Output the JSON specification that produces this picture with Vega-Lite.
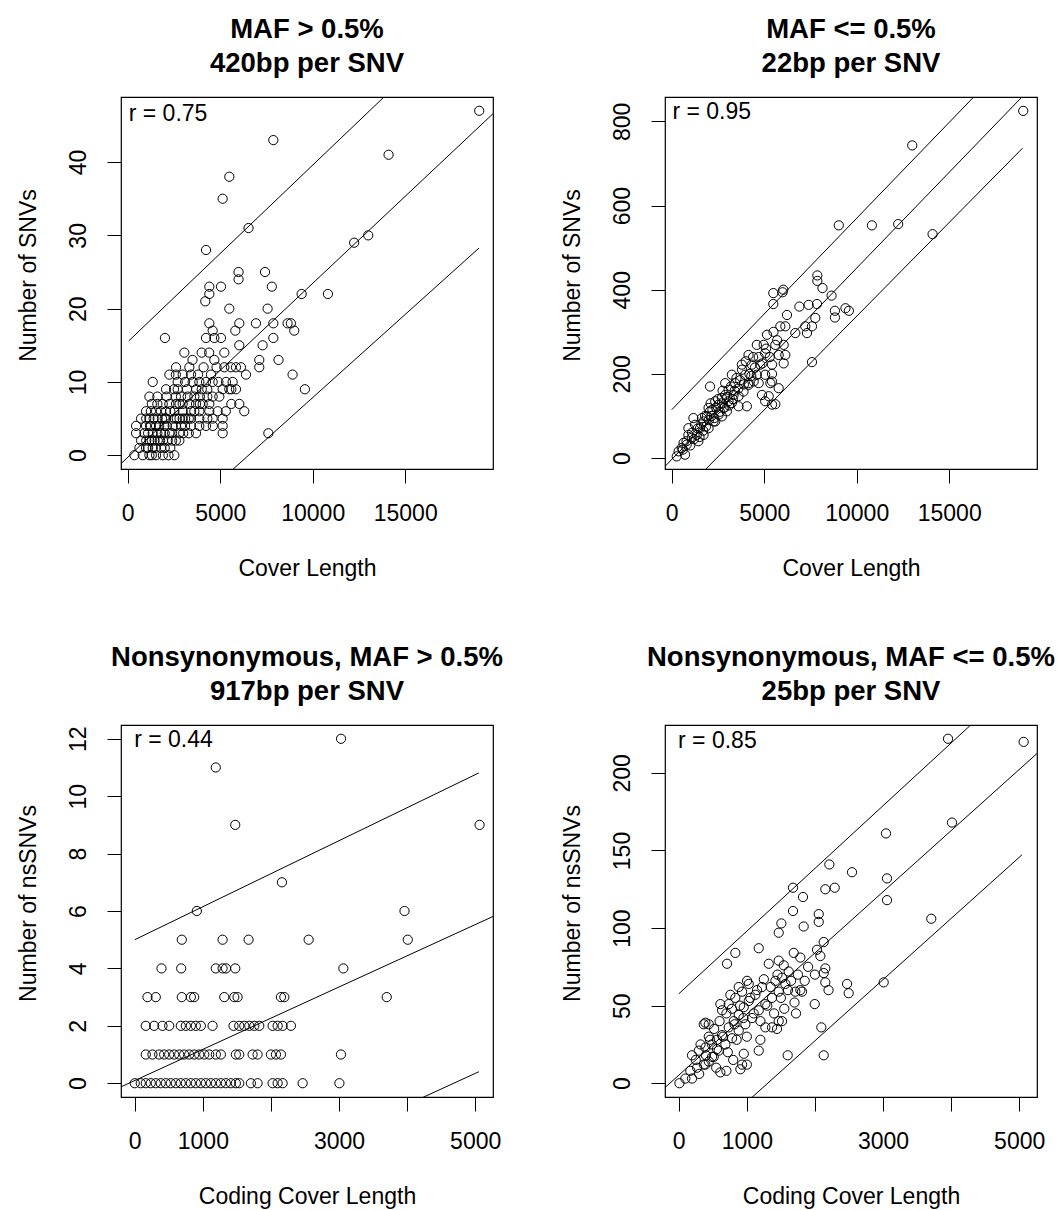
{
  "$schema": "https://vega.github.io/schema/vega-lite/v6.json",
  "padding": {"left": 16, "top": 14, "right": 0, "bottom": 0},
  "background": "white",
  "columns": 2,
  "spacing": {"row": 256, "column": 172},
  "bounds": "flush",
  "config": {
    "view": {"stroke": "#000", "strokeWidth": 1.2},
    "axis": {"domain": false, "grid": false, "tickColor": "#000", "tickSize": 14, "tickWidth": 1, "labelColor": "#000", "labelFont": "Liberation Sans", "labelFontSize": 23, "titleFont": "Liberation Sans", "titleFontSize": 23, "titleFontWeight": "normal", "titleColor": "#000", "labelOverlap": false, "labelFlush": false},
    "axisX": {"labelPadding": 37, "labelBaseline": "alphabetic", "labelAngle": 0, "titleX": 186, "titleY": 106, "titleBaseline": "alphabetic", "titleAlign": "center", "format": "d"},
    "axisY": {"labelAngle": -90, "labelAlign": "center", "labelBaseline": "alphabetic", "labelPadding": 22, "titleAngle": -90, "titleX": -86, "titleY": 178, "titleBaseline": "alphabetic", "titleAlign": "center", "format": "d"},
    "title": {"font": "Liberation Sans", "fontSize": 27.5, "fontWeight": "bold", "color": "#000", "lineHeight": 34, "anchor": "middle", "offset": 20},
    "text": {"font": "Liberation Sans", "fontSize": 23, "color": "#000"}
  },
  "datasets": {
    "p1": [[19000,47],[7870,43],[14100,41],[5490,38],[5130,35],[6530,31],[4230,28],[12240,29],[13000,30],[5990,25],[5990,24],[7420,25],[4410,23],[5040,23],[7790,23],[4410,22],[4190,21],[9400,22],[10820,22],[5490,20],[7560,20],[4410,18],[6030,18],[6930,18],[7870,18],[8640,18],[8820,18],[9000,17],[4590,17],[4230,16],[4680,16],[5040,16],[5815,17],[2010,16],[7870,16],[6030,15],[7290,15],[3060,14],[3996,14],[4680,13],[5220,14],[7110,13],[8150,13],[7110,12],[2610,12],[3330,12],[5220,12],[5580,12],[5850,12],[6120,12],[2250,11],[2970,11],[3420,11],[4500,11],[6390,11],[8910,11],[1350,10],[3510,10],[3870,10],[4230,10],[4590,10],[5310,10],[5670,10],[2070,9],[2700,9],[1170,8],[5130,9],[5490,9],[5850,9],[9576,9],[2880,8],[3240,8],[3600,8],[4590,8],[4950,8],[1890,7],[2250,7],[2610,7],[2970,7],[3330,7],[3690,7],[4050,7],[4410,7],[6030,7],[6300,6],[990,6],[1530,6],[2070,6],[2520,6],[2970,6],[3420,6],[3870,6],[4410,6],[4860,6],[720,5],[1170,5],[1620,5],[2070,5],[2520,5],[2970,5],[3420,5],[3870,5],[4590,5],[5130,5],[450,4],[990,4],[1530,4],[1980,4],[2430,4],[2880,4],[3420,4],[3870,4],[4230,4],[5130,4],[450,3],[900,3],[1350,3],[1800,3],[2250,3],[2790,3],[3690,3],[5130,3],[7600,3],[720,2],[1170,2],[1620,2],[2160,2],[2790,2],[630,1],[990,1],[1350,1],[1800,1],[360,0],[810,0],[1170,0],[1530,0],[2520,0],[1100,3],[1250,4],[1400,5],[1700,4],[2000,5],[2300,6],[2600,8],[1000,2],[1450,2],[1900,2],[2400,3],[3100,4],[3300,5],[2800,5],[4000,9],[3200,9],[1300,7],[1600,8],[2100,4],[2650,5],[1300,0],[1900,0],[2200,0],[1100,1],[1500,1],[2000,1],[2300,1],[1300,2],[1750,2],[2400,2],[2600,2],[1600,3],[2000,3],[3000,3],[3300,3],[1200,4],[2600,4],[4600,4],[1000,5],[1850,5],[3100,5],[4300,5],[1250,6],[1800,6],[3600,6],[5300,6],[1600,7],[2800,7],[3900,7],[5600,7],[2100,8],[3900,8],[4300,8],[2500,9],[3700,9],[4300,9],[2700,10],[3100,10],[4900,10],[2600,11],[3800,11],[4100,12],[4800,12],[3500,13],[4400,14],[5600,9]],
    "p2": [[19000,825],[13000,743],[9030,553],[10820,553],[12240,556],[14100,532],[7870,434],[7870,421],[8150,404],[8640,386],[5490,392],[5990,394],[6030,400],[5490,366],[6900,360],[7400,364],[7850,366],[8820,350],[9390,356],[9576,350],[8820,334],[6230,340],[7760,333],[5870,313],[6140,313],[7220,313],[7580,313],[6680,297],[7310,297],[5150,293],[4600,269],[4970,269],[5600,269],[6050,269],[4150,245],[5050,249],[5780,245],[6140,245],[3790,222],[4330,222],[4780,222],[5420,222],[6050,225],[3250,198],[3970,198],[4600,198],[5420,200],[2890,178],[3430,178],[4150,178],[4700,178],[5330,178],[2070,170],[3610,123],[4060,123],[5240,147],[5600,128],[7580,228],[270,4],[540,24],[810,32],[1080,48],[1170,95],[1350,55],[1530,71],[1720,87],[1900,99],[2070,111],[1440,40],[1720,55],[1990,71],[2260,87],[2530,103],[2800,119],[3070,135],[3340,150],[900,71],[1260,79],[1630,95],[1990,119],[2350,135],[2710,143],[3070,162],[2350,87],[2710,99],[2980,111],[3250,131],[3610,147],[3880,158],[4150,174],[4430,182],[2530,127],[2890,150],[4880,150],[5050,198],[5420,182],[5780,166],[5050,135],[5420,127],[370,16],[640,36],[900,55],[720,8],[600,20],[800,40],[1000,30],[1100,60],[1200,45],[1400,70],[1500,50],[1600,80],[1700,65],[1800,100],[1850,75],[2000,90],[2100,130],[2150,100],[2200,115],[2300,95],[2400,120],[2500,140],[2600,110],[2700,130],[2750,160],[2850,120],[3000,145],[3100,125],[3200,170],[3300,140],[3400,160],[3500,190],[3600,165],[3700,185],[3800,210],[3900,175],[4000,230],[4200,200],[4300,195],[4400,240],[4500,215],[4700,240],[4900,225],[5100,260],[5300,240],[5500,300],[5700,280]],
    "p3": [[3030,12],[1190,11],[1476,9],[5065,9],[2162,7],[912,6],[3962,6],[691,5],[1290,5],[1672,5],[2554,5],[4010,5],[393,4],[682,4],[1190,4],[1290,4],[1340,4],[1476,4],[3064,4],[187,3],[309,3],[691,3],[824,3],[873,3],[1315,3],[1462,3],[1510,3],[2147,3],[2197,3],[3701,3],[162,2],[285,2],[407,2],[506,2],[676,2],[750,2],[824,2],[897,2],[971,2],[1143,2],[1451,2],[1535,2],[1609,2],[1682,2],[1756,2],[1829,2],[2025,2],[2099,2],[2172,2],[2294,2],[162,1],[260,1],[359,1],[432,1],[506,1],[579,1],[653,1],[726,1],[800,1],[874,1],[947,1],[1021,1],[1094,1],[1191,1],[1265,1],[1485,1],[1535,1],[1731,1],[1804,1],[2000,1],[2074,1],[2147,1],[3029,1],[0,0],[88,0],[162,0],[235,0],[309,0],[382,0],[456,0],[529,0],[603,0],[676,0],[750,0],[824,0],[897,0],[971,0],[1044,0],[1118,0],[1191,0],[1265,0],[1338,0],[1412,0],[1485,0],[1535,0],[1706,0],[1804,0],[2025,0],[2099,0],[2172,0],[2466,0],[3006,0]],
    "p4": [[3955,222],[5066,220],[4013,168],[3044,161],[2212,141],[2545,136],[3059,132],[3059,118],[1678,126],[1825,120],[2153,125],[2291,126],[1678,111],[2056,109],[2056,104],[1507,103],[1468,97],[1835,101],[3709,106],[1175,87],[831,84],[709,77],[2129,91],[2031,86],[2080,82],[1689,84],[1786,81],[2153,74],[2129,71],[2153,65],[2472,64],[2496,58],[3010,65],[1605,60],[1712,59],[1811,59],[1997,51],[1722,45],[2094,36],[2129,18],[1600,18],[10,0],[97,3],[195,3],[170,8],[269,10],[367,12],[441,14],[514,17],[195,18],[294,21],[391,23],[489,25],[562,28],[636,31],[734,36],[808,40],[881,44],[955,49],[1028,53],[1125,57],[1223,62],[391,12],[489,17],[587,21],[685,25],[783,29],[881,34],[979,38],[1077,42],[1175,47],[1272,51],[1370,55],[1468,59],[1566,64],[636,47],[734,51],[831,55],[930,59],[1028,64],[441,38],[391,39],[611,51],[758,57],[881,62],[1003,66],[1322,77],[1468,79],[1542,76],[1615,72],[1419,66],[1517,68],[1786,60],[367,38],[441,30],[611,7],[905,9],[955,19],[930,12],[1175,21],[1468,40],[1443,35],[1199,28],[1272,36],[1370,36],[1517,40],[250,15],[320,25],[400,18],[460,28],[520,35],[560,22],[600,40],[650,30],[700,45],[720,20],[780,48],[820,38],[850,28],[900,50],[950,42],[1000,30],[1050,55],[1100,45],[1150,60],[1200,40],[1250,67],[1300,50],[1350,62],[1400,45],[1450,70],[1500,55],[1550,48],[1650,66],[1700,52],[1750,70],[1850,66],[1900,75],[2000,70],[2200,60],[300,6],[550,10],[700,8],[800,15],[1000,12]],
    "l1": [{"k":"u","x":54,"y":15.6},{"k":"u","x":19000,"y":61.3},{"k":"m","x":-365,"y":-1.15},{"k":"m","x":19745,"y":46.6},{"k":"l","x":54,"y":-14.7},{"k":"l","x":18990,"y":28.27}],
    "l2": [{"k":"u","x":0,"y":114.8},{"k":"u","x":18960,"y":978},{"k":"m","x":-365,"y":-19.9},{"k":"m","x":19745,"y":895},{"k":"l","x":0,"y":-108.3},{"k":"l","x":18960,"y":736.3}],
    "l3": [{"k":"u","x":0,"y":5.0},{"k":"u","x":5054,"y":10.81},{"k":"m","x":-202,"y":-0.126},{"k":"m","x":5262,"y":5.81},{"k":"l","x":0,"y":-5.1},{"k":"l","x":5054,"y":0.4}],
    "l4": [{"k":"u","x":0,"y":57.6},{"k":"u","x":5041,"y":261.3},{"k":"m","x":-202,"y":-2.8},{"k":"m","x":5262,"y":212.5},{"k":"l","x":0,"y":-51.5},{"k":"l","x":5041,"y":147.2}],
    "t1": [{"t":"r = 0.75","x":54,"y":45.6}],
    "t2": [{"t":"r = 0.95","x":38,"y":806}],
    "t3": [{"t":"r = 0.44","x":-9,"y":11.73}],
    "t4": [{"t":"r = 0.85","x":-10,"y":216.2}]
  },
  "concat": [
    {
      "width": 372, "height": 372,
      "title": {"text": ["MAF > 0.5%", "420bp per SNV"]},
      "layer": [
        {"data": {"name": "p1"}, "transform": [{"calculate": "datum[0]", "as": "len"}, {"calculate": "datum[1]", "as": "n"}],
         "mark": {"type": "point", "shape": "circle", "size": 85, "stroke": "#000", "strokeWidth": 1, "opacity": 1, "filled": false},
         "encoding": {
           "x": {"field": "len", "type": "quantitative", "scale": {"domain": [-365, 19745], "nice": false, "zero": false}, "axis": {"values": [0, 5000, 10000, 15000], "title": "Cover Length"}},
           "y": {"field": "n", "type": "quantitative", "scale": {"domain": [-1.88, 48.88], "nice": false, "zero": false}, "axis": {"values": [0, 10, 20, 30, 40], "title": "Number of SNVs"}}}},
        {"data": {"name": "l1"}, "mark": {"type": "line", "color": "#000", "strokeWidth": 1, "clip": true},
         "encoding": {"x": {"field": "x", "type": "quantitative"}, "y": {"field": "y", "type": "quantitative"}, "detail": {"field": "k"}}},
        {"data": {"name": "t1"}, "mark": {"type": "text", "align": "left", "baseline": "alphabetic"},
         "encoding": {"x": {"field": "x", "type": "quantitative"}, "y": {"field": "y", "type": "quantitative"}, "text": {"field": "t"}}}
      ]
    },
    {
      "width": 372, "height": 372,
      "title": {"text": ["MAF <= 0.5%", "22bp per SNV"]},
      "layer": [
        {"data": {"name": "p2"}, "transform": [{"calculate": "datum[0]", "as": "len"}, {"calculate": "datum[1]", "as": "n"}],
         "mark": {"type": "point", "shape": "circle", "size": 85, "stroke": "#000", "strokeWidth": 1, "opacity": 1, "filled": false},
         "encoding": {
           "x": {"field": "len", "type": "quantitative", "scale": {"domain": [-365, 19745], "nice": false, "zero": false}, "axis": {"values": [0, 5000, 10000, 15000], "title": "Cover Length"}},
           "y": {"field": "n", "type": "quantitative", "scale": {"domain": [-26, 858], "nice": false, "zero": false}, "axis": {"values": [0, 200, 400, 600, 800], "title": "Number of SNVs"}}}},
        {"data": {"name": "l2"}, "mark": {"type": "line", "color": "#000", "strokeWidth": 1, "clip": true},
         "encoding": {"x": {"field": "x", "type": "quantitative"}, "y": {"field": "y", "type": "quantitative"}, "detail": {"field": "k"}}},
        {"data": {"name": "t2"}, "mark": {"type": "text", "align": "left", "baseline": "alphabetic"},
         "encoding": {"x": {"field": "x", "type": "quantitative"}, "y": {"field": "y", "type": "quantitative"}, "text": {"field": "t"}}}
      ]
    },
    {
      "width": 372, "height": 372,
      "title": {"text": ["Nonsynonymous, MAF > 0.5%", "917bp per SNV"]},
      "layer": [
        {"data": {"name": "p3"}, "transform": [{"calculate": "datum[0]", "as": "len"}, {"calculate": "datum[1]", "as": "n"}],
         "mark": {"type": "point", "shape": "circle", "size": 85, "stroke": "#000", "strokeWidth": 1, "opacity": 1, "filled": false},
         "encoding": {
           "x": {"field": "len", "type": "quantitative", "scale": {"domain": [-202, 5262], "nice": false, "zero": false}, "axis": {"values": [0, 1000, 2000, 3000, 4000, 5000], "labelExpr": "datum.value == 2000 || datum.value == 4000 ? '' : datum.label", "title": "Coding Cover Length"}},
           "y": {"field": "n", "type": "quantitative", "scale": {"domain": [-0.48, 12.48], "nice": false, "zero": false}, "axis": {"values": [0, 2, 4, 6, 8, 10, 12], "title": "Number of nsSNVs"}}}},
        {"data": {"name": "l3"}, "mark": {"type": "line", "color": "#000", "strokeWidth": 1, "clip": true},
         "encoding": {"x": {"field": "x", "type": "quantitative"}, "y": {"field": "y", "type": "quantitative"}, "detail": {"field": "k"}}},
        {"data": {"name": "t3"}, "mark": {"type": "text", "align": "left", "baseline": "alphabetic"},
         "encoding": {"x": {"field": "x", "type": "quantitative"}, "y": {"field": "y", "type": "quantitative"}, "text": {"field": "t"}}}
      ]
    },
    {
      "width": 372, "height": 372,
      "title": {"text": ["Nonsynonymous, MAF <= 0.5%", "25bp per SNV"]},
      "layer": [
        {"data": {"name": "p4"}, "transform": [{"calculate": "datum[0]", "as": "len"}, {"calculate": "datum[1]", "as": "n"}],
         "mark": {"type": "point", "shape": "circle", "size": 85, "stroke": "#000", "strokeWidth": 1, "opacity": 1, "filled": false},
         "encoding": {
           "x": {"field": "len", "type": "quantitative", "scale": {"domain": [-202, 5262], "nice": false, "zero": false}, "axis": {"values": [0, 1000, 2000, 3000, 4000, 5000], "labelExpr": "datum.value == 2000 || datum.value == 4000 ? '' : datum.label", "title": "Coding Cover Length"}},
           "y": {"field": "n", "type": "quantitative", "scale": {"domain": [-8.88, 230.88], "nice": false, "zero": false}, "axis": {"values": [0, 50, 100, 150, 200], "title": "Number of nsSNVs"}}}},
        {"data": {"name": "l4"}, "mark": {"type": "line", "color": "#000", "strokeWidth": 1, "clip": true},
         "encoding": {"x": {"field": "x", "type": "quantitative"}, "y": {"field": "y", "type": "quantitative"}, "detail": {"field": "k"}}},
        {"data": {"name": "t4"}, "mark": {"type": "text", "align": "left", "baseline": "alphabetic"},
         "encoding": {"x": {"field": "x", "type": "quantitative"}, "y": {"field": "y", "type": "quantitative"}, "text": {"field": "t"}}}
      ]
    }
  ]
}
